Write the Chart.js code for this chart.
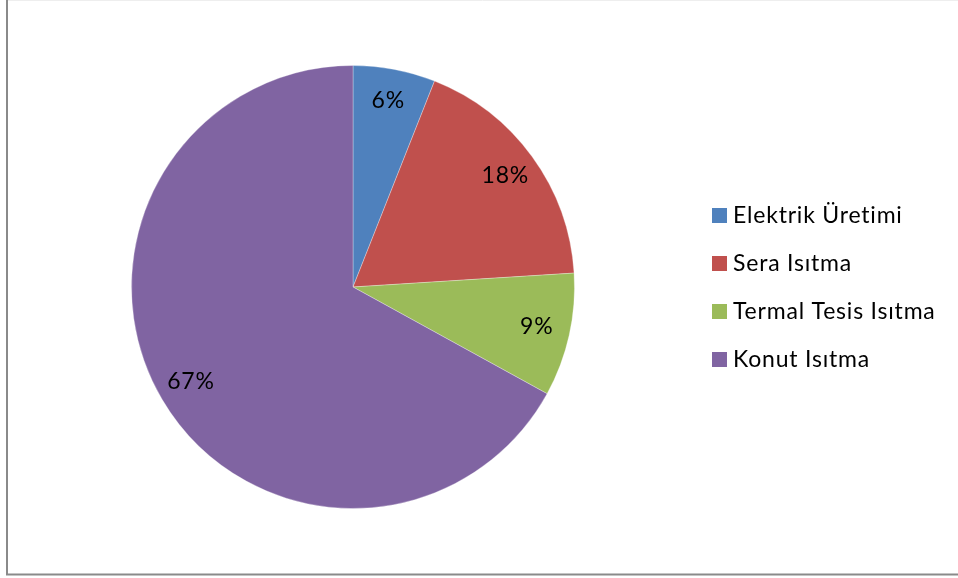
<!DOCTYPE html>
<html>
<head>
<meta charset="utf-8">
<script src="https://cdn.jsdelivr.net/npm/chart.js@4"></script>
<style>
  html, body { margin: 0; padding: 0; background: #fff; }
  #wrap { width: 958px; height: 578px; position: relative; }
</style>
</head>
<body>
<div id="wrap"><canvas id="c" width="958" height="578"></canvas></div>
<script>
const categories = ['Elektrik Üretimi', 'Sera Isıtma', 'Termal Tesis Isıtma', 'Konut Isıtma'];
const shares = [6, 18, 9, 67];
const sliceColors = ['#4F81BD', '#C0504D', '#9BBB59', '#8064A2'];

const FONT = 'Lato, "Open Sans", sans-serif';

// Frame around the chart, percentage labels inside slices, and the side legend
const decor = {
  id: 'decor',
  beforeDraw(chart) {
    const ctx = chart.ctx;
    ctx.save();
    ctx.fillStyle = '#fff';
    ctx.fillRect(0, 0, chart.width, chart.height);
    ctx.strokeStyle = '#eeeeee';
    ctx.lineWidth = 1;
    ctx.beginPath(); ctx.moveTo(7, 0.5); ctx.lineTo(958, 0.5); ctx.stroke();
    ctx.strokeStyle = '#8a8a8a';
    ctx.lineWidth = 2;
    ctx.beginPath();
    ctx.moveTo(7, 0); ctx.lineTo(7, 574.5); ctx.lineTo(958, 574.5);
    ctx.stroke();
    ctx.restore();
  },
  afterDatasetsDraw(chart) {
    const ctx = chart.ctx;
    const meta = chart.getDatasetMeta(0);
    const ds = chart.data.datasets[0];
    ctx.save();
    ctx.fillStyle = '#000';
    ctx.font = '23px ' + FONT;
    ctx.letterSpacing = '0.8px';
    ctx.textAlign = 'center';
    ctx.textBaseline = 'middle';
    meta.data.forEach((arc, i) => {
      const p = arc.getProps(['x', 'y', 'startAngle', 'endAngle', 'outerRadius'], true);
      const mid = (p.startAngle + p.endAngle) / 2;
      const r = p.outerRadius * 0.85;
      ctx.fillText(ds.data[i] + '%', p.x + Math.cos(mid) * r, p.y + Math.sin(mid) * r - 1);
    });
    // legend
    const x0 = 712, y0 = 215, step = 48;
    ctx.textAlign = 'left';
    chart.data.labels.forEach((lab, i) => {
      const cy = y0 + i * step;
      ctx.fillStyle = ds.backgroundColor[i];
      ctx.fillRect(x0, cy - 7, 15, 15);
      ctx.fillStyle = '#000';
      ctx.fillText(lab, x0 + 21, cy + 1);
    });
    ctx.restore();
  }
};

new Chart(document.getElementById('c'), {
  type: 'pie',
  data: {
    labels: categories,
    datasets: [{
      data: shares,
      backgroundColor: sliceColors,
      borderColor: 'rgba(255,255,255,0.3)',
      borderWidth: 1
    }]
  },
  options: {
    responsive: false,
    animation: false,
    layout: { padding: { top: 65, bottom: 69, left: 131, right: 383 } },
    plugins: {
      legend: { display: false },
      tooltip: { enabled: false }
    }
  },
  plugins: [decor]
});
</script>
</body>
</html>
